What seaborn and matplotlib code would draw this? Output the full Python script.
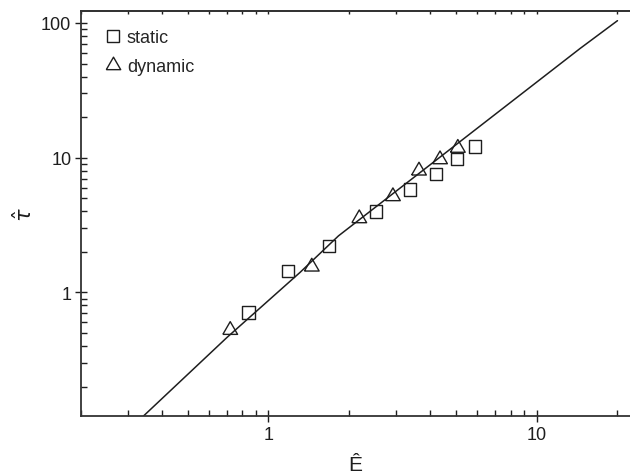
import numpy as np
import pandas as pd
import matplotlib
matplotlib.use("Agg")
import matplotlib.pyplot as plt
import matplotlib.ticker as mticker
from matplotlib.lines import Line2D
import seaborn as sns

# ---- data ----
static_E = [0.842, 1.18, 1.68, 2.52, 3.36, 4.21, 5.05, 5.89]
static_tau = [0.71, 1.45, 2.22, 3.99, 5.82, 7.55, 9.77, 12.1]
dynamic_E = [0.72, 1.45, 2.18, 2.91, 3.64, 4.36, 5.08]
dynamic_tau = [0.525, 1.55, 3.54, 5.16, 8.0, 9.7, 11.8]
fit_E = [0.342, 0.700, 1.312, 1.824, 8.30, 14.5, 20.0]
fit_tau = [0.121, 0.463, 1.41, 2.63, 27.3, 64.6, 104.0]
x_ticks = [1, 10]
x_ticklabels = ["1", "10"]
y_ticks = [1, 10, 100]
y_ticklabels = ["1", "10", "100"]

sns.set_style("ticks")
plt.rcParams["font.family"] = ["Liberation Sans", "DejaVu Sans"]
plt.rcParams["mathtext.fontset"] = "dejavusans"

INK = "#1e1e1e"
tri = [(-1.0, -0.577), (1.0, -0.577), (0.0, 1.155), (-1.0, -0.577)]

static_df = pd.DataFrame({"E": static_E, "tau": static_tau})
dynamic_df = pd.DataFrame({"E": dynamic_E, "tau": dynamic_tau})
fit = pd.DataFrame({"E": fit_E, "tau": fit_tau})

fig = plt.figure(figsize=(6.3, 4.77), dpi=100)
ax = fig.add_axes([81 / 630, 1 - 417 / 477, 1 - 81 / 630, (417 - 12) / 477])
ax.set_xscale("log")
ax.set_yscale("log")

sns.lineplot(data=fit, x="E", y="tau", ax=ax, color=INK, lw=1.1,
             sort=False, estimator=None, legend=False)
sns.scatterplot(data=static_df, x="E", y="tau", marker="s", s=78,
                facecolor="none", edgecolor=INK, linewidth=1.0, ax=ax,
                legend=False, zorder=3)
sns.scatterplot(data=dynamic_df, x="E", y="tau", marker=tri, s=150,
                facecolor="none", edgecolor=INK, linewidth=1.0, ax=ax,
                legend=False, zorder=3)
for coll in ax.collections:
    coll.set_facecolor("none")
    coll.set_edgecolor(INK)

ax.set_xlim(0.2, 22.27)
ax.set_ylim(0.121, 122.7)

ax.xaxis.set_major_locator(mticker.FixedLocator(x_ticks))
ax.xaxis.set_major_formatter(mticker.FixedFormatter(x_ticklabels))
ax.yaxis.set_major_locator(mticker.FixedLocator(y_ticks))
ax.yaxis.set_major_formatter(mticker.FixedFormatter(y_ticklabels))
ax.xaxis.set_minor_locator(mticker.LogLocator(base=10, subs=np.arange(2, 10), numticks=20))
ax.yaxis.set_minor_locator(mticker.LogLocator(base=10, subs=np.arange(2, 10), numticks=20))
ax.xaxis.set_minor_formatter(mticker.NullFormatter())
ax.yaxis.set_minor_formatter(mticker.NullFormatter())

ax.tick_params(axis="both", which="major", direction="inout", length=8, width=1.0,
               labelsize=13, colors=INK, pad=3)
ax.tick_params(axis="both", which="minor", direction="in", length=4, width=1.0,
               colors=INK)
ax.tick_params(axis="x", which="both", top=False)

for side in ["left", "bottom", "top"]:
    ax.spines[side].set_visible(True)
    ax.spines[side].set_linewidth(1.3)
    ax.spines[side].set_color("#333333")
ax.spines["right"].set_visible(False)

sec = ax.secondary_xaxis("top")
sec.set_xscale("log")
sec.xaxis.set_major_locator(mticker.FixedLocator(x_ticks))
sec.xaxis.set_minor_locator(mticker.LogLocator(base=10, subs=np.arange(2, 10), numticks=20))
sec.xaxis.set_major_formatter(mticker.NullFormatter())
sec.xaxis.set_minor_formatter(mticker.NullFormatter())
sec.tick_params(which="both", direction="in", length=2, width=1.0, colors=INK)
sec.spines["top"].set_linewidth(1.3)
sec.spines["top"].set_color("#333333")

ax.set_xlabel("Ê", fontsize=15, color=INK)
ax.xaxis.set_label_coords(0.5, -0.096)
ax.set_ylabel(r"$\hat{\tau}$", fontsize=15, color=INK)
ax.yaxis.set_label_coords(-0.082, 0.5)

handles = [
    Line2D([], [], ls="none", marker="s", ms=8.5, mfc="none", mec=INK, mew=1.0),
    Line2D([], [], ls="none", marker=tri, ms=12, mfc="none", mec=INK, mew=1.0),
]
ax.legend(handles, ["static", "dynamic"], loc="upper left", frameon=False,
          fontsize=13, handlelength=0.8, handletextpad=0.4, labelspacing=0.65,
          borderaxespad=0.4, bbox_to_anchor=(0.018, 0.99))

fig.savefig("out.png", dpi=100)
